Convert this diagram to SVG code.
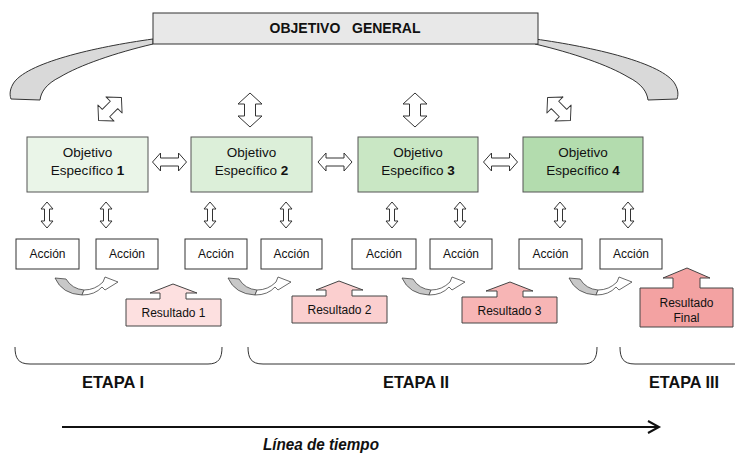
<svg xmlns="http://www.w3.org/2000/svg" width="735" height="454" viewBox="0 0 735 454">
  <style>
    .lbl { font-family: "Liberation Sans", Arial, sans-serif; fill: #111; text-anchor: middle; }
    .obj { font-size: 13.5px; }
    .act { font-size: 12px; }
    .res { font-size: 12px; }
    .etapa { font-family: "Liberation Sans Narrow", "Liberation Sans", sans-serif; font-weight: bold; font-size: 17px; fill: #111; text-anchor: middle; }
    .objbox { stroke: #555; stroke-width: 1; }
    .actbox { fill: #fff; stroke: #333; stroke-width: 1; }
    .resbox { stroke: #444; stroke-width: 1; }
    .dbl { fill: #fff; stroke: #333; stroke-width: 1; stroke-linejoin: round; }
    .arc { fill: #d9d9d9; stroke: #333; stroke-width: 1; }
    .brk { fill: none; stroke: #333; stroke-width: 1; }
    .cgray { fill: #c8c8c8; stroke: #444; stroke-width: 0.8; stroke-linejoin: round; }
    .cwhite { fill: #fff; stroke: #444; stroke-width: 0.8; stroke-linejoin: round; }
  </style>
  <defs>
    <!-- small vertical double arrow -->
    <path id="dv" d="M0,-13 L6,-6 L2.5,-6 L2.5,6 L6,6 L0,13 L-6,6 L-2.5,6 L-2.5,-6 L-6,-6 Z"/>
    <!-- horizontal double arrow -->
    <path id="dh" d="M-17,0 L-9,-9 L-9,-4 L9,-4 L9,-9 L17,0 L9,9 L9,4 L-9,4 L-9,9 Z"/>
    <!-- large vertical double arrow -->
    <path id="dbig" d="M0,-17 L12,-6 L5.5,-6 L5.5,6 L12,6 L0,17 L-12,6 L-5.5,6 L-5.5,-6 L-12,-6 Z"/>
    <!-- curved U arrow -->
    <g id="curve">
      <path class="cgray" d="M0,0 L11,1 Q17,11 29,12 L27,17 Q7,16 0,0 Z"/>
      <path class="cwhite" d="M27,17 Q40,17 47,9 L50,12 L63,4 L50,-1 L48,4 Q40,12 29,12 Z"/>
    </g>
  </defs>

  <!-- general objective with its side arcs -->
  <g id="objetivo-general">
    <path class="arc" d="M153,39 C95,47 25,63 13,84 C9,91 10,96 11,99 L40,100 C41,92 46,84 60,77 C80,65 115,53 153,44 Z"/>
    <path class="arc" transform="translate(688,0) scale(-1,1)" d="M153,39 C95,47 25,63 13,84 C9,91 10,96 11,99 L40,100 C41,92 46,84 60,77 C80,65 115,53 153,44 Z"/>
    <rect x="153" y="13" width="385" height="31" fill="#e8e8e8" stroke="#333" stroke-width="1"/>
    <text class="lbl" x="345" y="33" font-size="14" font-weight="bold" xml:space="preserve" style="white-space:pre">OBJETIVO   GENERAL</text>
  </g>

  <!-- specific objectives -->
  <g id="obj1">
    <rect class="objbox" x="27" y="137" width="121" height="55" fill="#eaf5e8"/>
    <text class="lbl obj" x="87.5" y="157">Objetivo</text>
    <text class="lbl obj" x="87.5" y="175">Específico <tspan font-weight="bold">1</tspan></text>
  </g>
  <g id="obj2">
    <rect class="objbox" x="191" y="137" width="121" height="55" fill="#dcefd9"/>
    <text class="lbl obj" x="251.5" y="157">Objetivo</text>
    <text class="lbl obj" x="251.5" y="175">Específico <tspan font-weight="bold">2</tspan></text>
  </g>
  <g id="obj3">
    <rect class="objbox" x="358" y="137" width="120" height="55" fill="#c9e7c4"/>
    <text class="lbl obj" x="418" y="157">Objetivo</text>
    <text class="lbl obj" x="418" y="175">Específico <tspan font-weight="bold">3</tspan></text>
  </g>
  <g id="obj4">
    <rect class="objbox" x="523" y="137" width="120" height="55" fill="#b3dcae"/>
    <text class="lbl obj" x="583" y="157">Objetivo</text>
    <text class="lbl obj" x="583" y="175">Específico <tspan font-weight="bold">4</tspan></text>
  </g>

  <!-- actions -->
  <g id="acc1"><rect class="actbox" x="16" y="239" width="63" height="30"/><text class="lbl act" x="47.5" y="258">Acción</text></g>
  <g id="acc2"><rect class="actbox" x="96" y="239" width="62" height="30"/><text class="lbl act" x="127" y="258">Acción</text></g>
  <g id="acc3"><rect class="actbox" x="185" y="239" width="62" height="30"/><text class="lbl act" x="216" y="258">Acción</text></g>
  <g id="acc4"><rect class="actbox" x="261" y="239" width="61" height="30"/><text class="lbl act" x="291.5" y="258">Acción</text></g>
  <g id="acc5"><rect class="actbox" x="352" y="239" width="64" height="30"/><text class="lbl act" x="384" y="258">Acción</text></g>
  <g id="acc6"><rect class="actbox" x="430" y="239" width="62" height="30"/><text class="lbl act" x="461" y="258">Acción</text></g>
  <g id="acc7"><rect class="actbox" x="519" y="239" width="63" height="30"/><text class="lbl act" x="550.5" y="258">Acción</text></g>
  <g id="acc8"><rect class="actbox" x="600" y="239" width="62" height="30"/><text class="lbl act" x="631" y="258">Acción</text></g>

  <!-- results (up-arrow callouts) -->
  <g id="res1">
    <path class="resbox" fill="#fde0e0" d="M126,299 L160,299 L160,293 L150,293 L173,284 L197,293 L186,293 L186,299 L221,299 L221,326 L126,326 Z"/>
    <text class="lbl res" x="173.5" y="317">Resultado 1</text>
  </g>
  <g id="res2">
    <path class="resbox" fill="#fbcfcf" d="M292,296 L326,296 L326,290 L316,290 L339,281 L363,290 L352,290 L352,296 L387,296 L387,323 L292,323 Z"/>
    <text class="lbl res" x="339.5" y="314">Resultado 2</text>
  </g>
  <g id="res3">
    <path class="resbox" fill="#f7b5b5" d="M462,297 L497,297 L497,291 L486,291 L510,282 L533,291 L523,291 L523,297 L557,297 L557,323 L462,323 Z"/>
    <text class="lbl res" x="509.5" y="315">Resultado 3</text>
  </g>
  <g id="resfinal">
    <path class="resbox" fill="#f3a2a2" d="M640,288 L673,288 L673,278 L663,278 L687,268 L710,278 L700,278 L700,288 L733,288 L733,327 L640,327 Z"/>
    <text class="lbl res" x="686.5" y="307">Resultado</text>
    <text class="lbl res" x="686.5" y="322">Final</text>
  </g>

  <!-- connectors -->
  <g id="connectors">
    <use href="#dbig" class="dbl" transform="translate(110,109) rotate(45) scale(0.95)"/>
    <use href="#dbig" class="dbl" transform="translate(250,110)"/>
    <use href="#dbig" class="dbl" transform="translate(415,110)"/>
    <use href="#dbig" class="dbl" transform="translate(559,109) rotate(-45) scale(0.95)"/>

    <use href="#dh" class="dbl" transform="translate(169.5,162)"/>
    <use href="#dh" class="dbl" transform="translate(335,162)"/>
    <use href="#dh" class="dbl" transform="translate(500.5,162)"/>

    <use href="#dv" class="dbl" transform="translate(47,215)"/>
    <use href="#dv" class="dbl" transform="translate(106,215)"/>
    <use href="#dv" class="dbl" transform="translate(210,215)"/>
    <use href="#dv" class="dbl" transform="translate(286,215)"/>
    <use href="#dv" class="dbl" transform="translate(392,215)"/>
    <use href="#dv" class="dbl" transform="translate(460,215)"/>
    <use href="#dv" class="dbl" transform="translate(560,215)"/>
    <use href="#dv" class="dbl" transform="translate(628,215)"/>

    <use href="#curve" transform="translate(55,278)"/>
    <use href="#curve" transform="translate(228,278)"/>
    <use href="#curve" transform="translate(402,278)"/>
    <use href="#curve" transform="translate(569,278)"/>
  </g>

  <!-- stages -->
  <g id="etapas">
    <path class="brk" d="M15,347 C15,358 18,364 30,364 L208,364 C219,364 222,358 222,347"/>
    <path class="brk" d="M248,347 C248,358 251,364 263,364 L583,364 C594,364 597,358 597,347"/>
    <path class="brk" d="M620,347 C620,358 623,364 635,364 L735,364"/>
    <text class="etapa" x="113" y="388" textLength="62" lengthAdjust="spacingAndGlyphs">ETAPA I</text>
    <text class="etapa" x="416" y="388" textLength="66" lengthAdjust="spacingAndGlyphs">ETAPA II</text>
    <text class="etapa" x="684" y="388" textLength="70" lengthAdjust="spacingAndGlyphs">ETAPA III</text>
  </g>

  <!-- timeline -->
  <g id="timeline">
    <line x1="62" y1="427" x2="658" y2="427" stroke="#111" stroke-width="2"/>
    <polyline points="648,421 659,427 648,433" fill="none" stroke="#111" stroke-width="2"/>
    <text class="etapa" x="321" y="450" font-style="italic" textLength="116" lengthAdjust="spacingAndGlyphs">Línea de tiempo</text>
  </g>
</svg>
